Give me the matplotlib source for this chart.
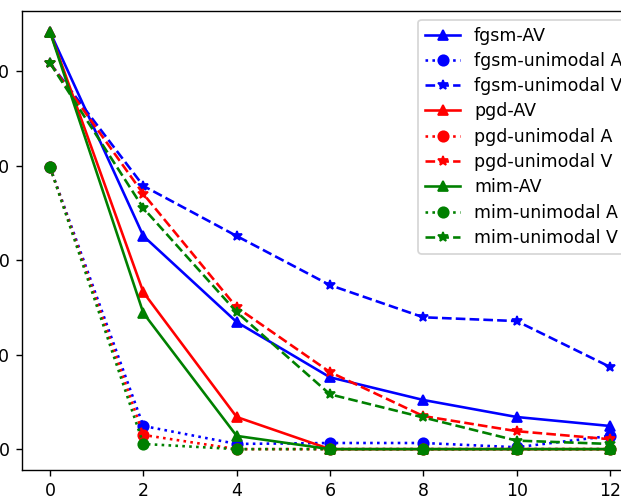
import numpy as np
import matplotlib
matplotlib.use('Agg')
import matplotlib.pyplot as plt

# Attack strength (x axis)
eps = [0, 2, 4, 6, 8, 10, 12]

# Accuracy values
fgsm_av = [88.3, 45.1, 26.9, 15.2, 10.4, 6.8, 4.9]
fgsm_a = [59.7, 4.9, 1.1, 1.3, 1.3, 0.4, 2.8]
fgsm_v = [81.7, 55.7, 45.1, 34.7, 27.9, 27.1, 17.4]

pgd_av = [88.3, 33.2, 6.8, 0.0, 0.0, 0.0, 0.0]
pgd_a = [59.7, 3.0, 0.0, 0.0, 0.0, 0.0, 0.0]
pgd_v = [81.7, 54.0, 30.0, 16.3, 7.0, 3.8, 2.1]

mim_av = [88.3, 28.8, 2.8, 0.0, 0.0, 0.0, 0.0]
mim_a = [59.7, 1.1, 0.0, 0.0, 0.0, 0.0, 0.0]
mim_v = [81.7, 51.0, 29.0, 11.6, 6.7, 1.8, 1.1]

fig = plt.figure(figsize=(621/125, 496/125), dpi=125)
# the original picture is a crop, so the axes run past the right edge
ax = fig.add_axes([22/621, 26/496, 616/621, 459/496])

ax.plot(eps, fgsm_av, 'b-^', label='fgsm-AV')
ax.plot(eps, fgsm_a, 'b:o', label='fgsm-unimodal A')
ax.plot(eps, fgsm_v, 'b--*', label='fgsm-unimodal V')
ax.plot(eps, pgd_av, 'r-^', label='pgd-AV')
ax.plot(eps, pgd_a, 'r:o', label='pgd-unimodal A')
ax.plot(eps, pgd_v, 'r--*', label='pgd-unimodal V')
ax.plot(eps, mim_av, 'g-^', label='mim-AV')
ax.plot(eps, mim_a, 'g:o', label='mim-unimodal A')
ax.plot(eps, mim_v, 'g--*', label='mim-unimodal V')

ax.set_xticks([0, 2, 4, 6, 8, 10, 12])
ax.set_yticks([0, 20, 40, 60, 80])
ax.legend(loc='upper right', labelspacing=0.42)

plt.savefig('out.png', dpi=125)
